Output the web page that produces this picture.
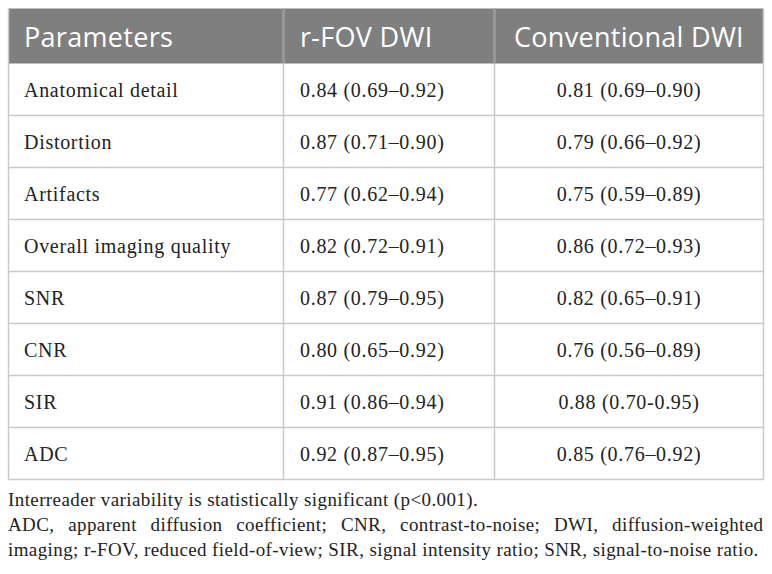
<!DOCTYPE html>
<html>
<head>
<meta charset="utf-8">
<script src="https://cdn.jsdelivr.net/npm/d3@7"></script>
<style>
  body { margin: 0; background: #fff; }
  svg { display: block; }
</style>
</head>
<body>
<div id="chart"></div>
<script>
// 表格数据
const columns = ["Parameters", "r-FOV DWI", "Conventional DWI"];
const parameters = [
  "Anatomical detail",
  "Distortion",
  "Artifacts",
  "Overall imaging quality",
  "SNR",
  "CNR",
  "SIR",
  "ADC",
];
const rfovValues = [
  "0.84 (0.69–0.92)",
  "0.87 (0.71–0.90)",
  "0.77 (0.62–0.94)",
  "0.82 (0.72–0.91)",
  "0.87 (0.79–0.95)",
  "0.80 (0.65–0.92)",
  "0.91 (0.86–0.94)",
  "0.92 (0.87–0.95)",
];
const conventionalValues = [
  "0.81 (0.69–0.90)",
  "0.79 (0.66–0.92)",
  "0.75 (0.59–0.89)",
  "0.86 (0.72–0.93)",
  "0.82 (0.65–0.91)",
  "0.76 (0.56–0.89)",
  "0.88 (0.70-0.95)",
  "0.85 (0.76–0.92)",
];
const footnotes = [
  "Interreader variability is statistically significant (p<0.001).",
  "ADC, apparent diffusion coefficient; CNR, contrast-to-noise; DWI, diffusion-weighted",
  "imaging; r-FOV, reduced field-of-view; SIR, signal intensity ratio; SNR, signal-to-noise ratio.",
];

const width = 772;
const height = 574;
const left = 8.5;
const right = 763.5;
const headerTop = 8.5;
const headerH = 55;
const rowH = 52;
const colEdges = [left, 283.5, 494.5, right];

const svg = d3
  .select("#chart")
  .append("svg")
  .attr("width", width)
  .attr("height", height);

// 行位置比例尺
const y = d3
  .scaleBand()
  .domain(d3.range(parameters.length))
  .range([headerTop + headerH, headerTop + headerH + rowH * parameters.length]);

const serif = "'Liberation Serif', 'Times New Roman', serif";
const sans = "'Open Sans', 'Noto Sans', sans-serif";
const lineColor = "#c9c9c9";

// 表头背景
svg
  .append("rect")
  .attr("x", left)
  .attr("y", headerTop)
  .attr("width", right - left)
  .attr("height", headerH)
  .attr("fill", "#7f7f7f");

// 表头文字
const headerX = [24, 300, (colEdges[2] + colEdges[3]) / 2];
svg
  .append("g")
  .selectAll("text")
  .data(columns)
  .join("text")
  .attr("x", (d, i) => headerX[i])
  .attr("y", headerTop + headerH / 2)
  .attr("dominant-baseline", "central")
  .attr("text-anchor", (d, i) => (i === 2 ? "middle" : "start"))
  .style("font-family", sans)
  .style("font-size", "27px")
  .style("letter-spacing", "0.3px")
  .style("fill", "#fff")
  .text((d) => d);

// 表格线
const grid = svg.append("g").attr("stroke", lineColor).attr("stroke-width", 1.5);
const tableBottom = y.range()[1];
grid
  .selectAll("line.h")
  .data(d3.range(1, parameters.length + 1))
  .join("line")
  .attr("class", "h")
  .attr("x1", left)
  .attr("x2", right)
  .attr("y1", (i) => (i < parameters.length ? y(i) : tableBottom))
  .attr("y2", (i) => (i < parameters.length ? y(i) : tableBottom));

grid
  .selectAll("line.v")
  .data(colEdges)
  .join("line")
  .attr("class", "v")
  .attr("x1", (d) => d)
  .attr("x2", (d) => d)
  .attr("y1", headerTop)
  .attr("y2", tableBottom);

// 表头中间分隔线
svg
  .append("g")
  .selectAll("line")
  .data([colEdges[1], colEdges[2]])
  .join("line")
  .attr("x1", (d) => d)
  .attr("x2", (d) => d)
  .attr("y1", headerTop)
  .attr("y2", headerTop + headerH)
  .attr("stroke", "#9a9a9a")
  .attr("stroke-width", 1.5);

// 单元格文字
const rows = svg
  .append("g")
  .selectAll("g")
  .data(parameters)
  .join("g")
  .attr("transform", (d, i) => `translate(0,${y(i) + y.bandwidth() / 2})`)
  .style("font-family", serif)
  .style("font-size", "20px")
  .style("letter-spacing", "0.7px")
  .style("fill", "#222");

rows
  .append("text")
  .attr("x", 24)
  .attr("dominant-baseline", "central")
  .text((d) => d);

rows
  .append("text")
  .attr("x", 300)
  .attr("dominant-baseline", "central")
  .text((d, i) => rfovValues[i]);

rows
  .append("text")
  .attr("x", (colEdges[2] + colEdges[3]) / 2)
  .attr("text-anchor", "middle")
  .attr("dominant-baseline", "central")
  .text((d, i) => conventionalValues[i]);

// 脚注
const notes = svg
  .append("g")
  .style("font-family", serif)
  .style("font-size", "19px")
  .style("letter-spacing", "0.4px")
  .style("fill", "#222");

footnotes.forEach((line, li) => {
  const baseline = 506 + li * 25;
  if (li !== 1) {
    notes.append("text").attr("x", 8).attr("y", baseline).text(line);
    return;
  }
  // 两端对齐：逐词放置
  const words = line.split(" ");
  const nodes = words.map((w) =>
    notes.append("text").attr("y", baseline).text(w)
  );
  const widths = nodes.map((n) => n.node().getComputedTextLength());
  const gap = (right - 8 - d3.sum(widths)) / (words.length - 1);
  let x = 8;
  nodes.forEach((n, i) => {
    n.attr("x", x);
    x += widths[i] + gap;
  });
});
</script>
</body>
</html>
